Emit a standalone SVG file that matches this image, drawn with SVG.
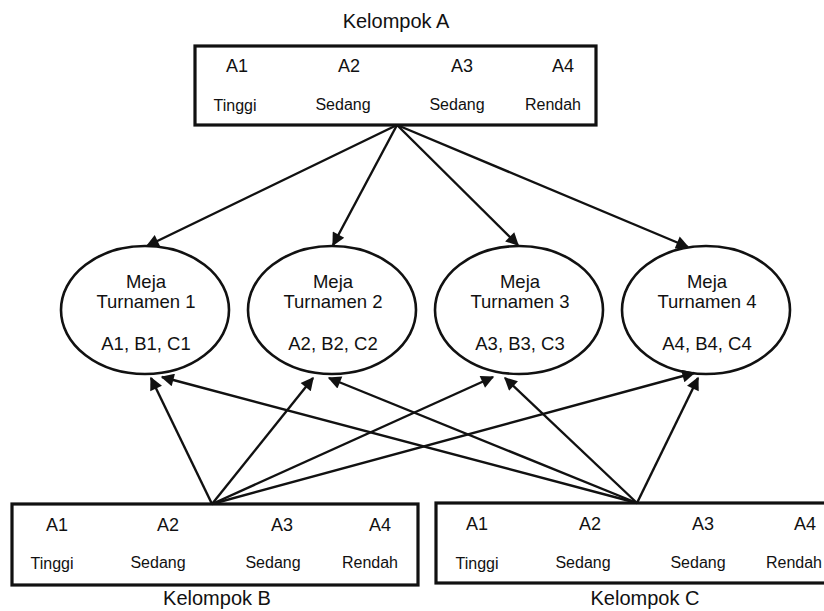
<svg xmlns="http://www.w3.org/2000/svg" width="824" height="611" viewBox="0 0 824 611">
<style>
text{font-family:"Liberation Sans",Arial,sans-serif;fill:#111;text-anchor:middle}
.t{font-size:20px}
.a{font-size:18px}
.l{font-size:16px}
.e{font-size:18.5px}
.box{fill:#fff;stroke:#111;stroke-width:3.2}
.ell{fill:#fff;stroke:#111;stroke-width:2.6}
.c line{stroke:#111;stroke-width:2.4;marker-end:url(#ah)}
</style>
<defs>
<marker id="ah" viewBox="0 0 10 10" refX="9" refY="5" markerWidth="16" markerHeight="13" markerUnits="userSpaceOnUse" orient="auto">
<path d="M0,0 L10,5 L0,10 z" fill="#111"/>
</marker>
</defs>
<rect width="824" height="611" fill="#fff"/>

<g id="kelompokA">
<text class="t" x="396" y="28">Kelompok A</text>
<rect class="box" x="195" y="46" width="401" height="79"/>
<text class="a" x="237" y="72">A1</text>
<text class="a" x="349" y="72">A2</text>
<text class="a" x="462" y="72">A3</text>
<text class="a" x="563" y="72">A4</text>
<text class="l" x="235" y="111">Tinggi</text>
<text class="l" x="343" y="110">Sedang</text>
<text class="l" x="457" y="110">Sedang</text>
<text class="l" x="553" y="110">Rendah</text>
</g>

<g id="meja1">
<ellipse class="ell" cx="145" cy="310" rx="84" ry="64"/>
<text class="e" x="146" y="288">Meja</text>
<text class="e" x="146" y="308">Turnamen 1</text>
<text class="e" x="146" y="350">A1, B1, C1</text>
</g>
<g id="meja2">
<ellipse class="ell" cx="332" cy="310" rx="84" ry="64"/>
<text class="e" x="333" y="288">Meja</text>
<text class="e" x="333" y="308">Turnamen 2</text>
<text class="e" x="333" y="350">A2, B2, C2</text>
</g>
<g id="meja3">
<ellipse class="ell" cx="519" cy="310" rx="84" ry="64"/>
<text class="e" x="520" y="288">Meja</text>
<text class="e" x="520" y="308">Turnamen 3</text>
<text class="e" x="520" y="350">A3, B3, C3</text>
</g>
<g id="meja4">
<ellipse class="ell" cx="706" cy="310" rx="84" ry="64"/>
<text class="e" x="707" y="288">Meja</text>
<text class="e" x="707" y="308">Turnamen 4</text>
<text class="e" x="707" y="350">A4, B4, C4</text>
</g>

<g id="kelompokB">
<rect class="box" x="12" y="504" width="406" height="81"/>
<text class="a" x="57" y="531">A1</text>
<text class="a" x="168" y="531">A2</text>
<text class="a" x="282" y="531">A3</text>
<text class="a" x="380" y="531">A4</text>
<text class="l" x="52" y="569">Tinggi</text>
<text class="l" x="158" y="568">Sedang</text>
<text class="l" x="273" y="568">Sedang</text>
<text class="l" x="370" y="568">Rendah</text>
<text class="t" x="217" y="605">Kelompok B</text>
</g>

<g id="kelompokC">
<rect class="box" x="436" y="503" width="390" height="80"/>
<text class="a" x="477" y="530">A1</text>
<text class="a" x="590" y="530">A2</text>
<text class="a" x="703" y="530">A3</text>
<text class="a" x="805" y="530">A4</text>
<text class="l" x="477" y="569">Tinggi</text>
<text class="l" x="583" y="568">Sedang</text>
<text class="l" x="698" y="568">Sedang</text>
<text class="l" x="794" y="568">Rendah</text>
<text class="t" x="645" y="605">Kelompok C</text>
</g>

<g id="connectors" class="c">
<line x1="397" y1="125" x2="147" y2="246"/>
<line x1="397" y1="125" x2="333" y2="245"/>
<line x1="397" y1="125" x2="518" y2="245"/>
<line x1="397" y1="125" x2="688" y2="247"/>
<line x1="212" y1="504" x2="151" y2="378"/>
<line x1="212" y1="504" x2="313" y2="378"/>
<line x1="212" y1="504" x2="493" y2="377"/>
<line x1="212" y1="504" x2="694" y2="373"/>
<line x1="637" y1="503" x2="162" y2="377"/>
<line x1="637" y1="503" x2="329" y2="378"/>
<line x1="637" y1="503" x2="505" y2="378"/>
<line x1="637" y1="503" x2="698" y2="378"/>
</g>
</svg>
